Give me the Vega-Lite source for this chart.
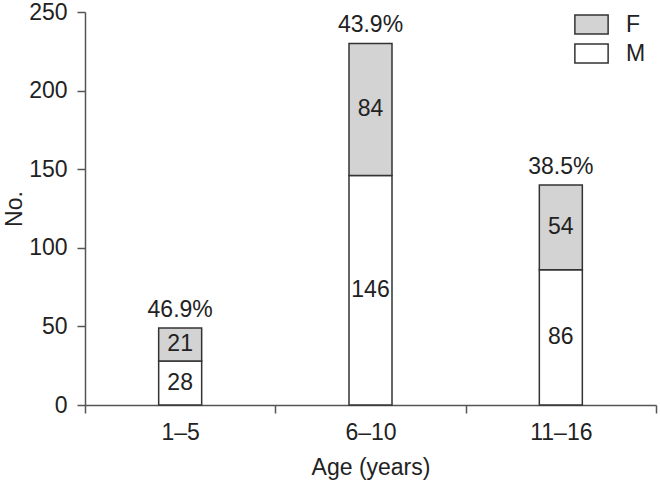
{
  "$schema": "https://vega.github.io/schema/vega-lite/v6.json",
  "width": 571,
  "height": 393,
  "autosize": {"type": "none"},
  "padding": {"left": 85, "top": 12, "right": 4, "bottom": 76},
  "config": {
    "view": {"stroke": null},
    "font": "Liberation Sans",
    "axis": {
      "domainColor": "#555555",
      "domainWidth": 1.5,
      "tickColor": "#555555",
      "tickWidth": 1.5,
      "tickSize": 8,
      "labelFontSize": 23,
      "labelColor": "#222222",
      "titleFontSize": 23,
      "titleFontWeight": "normal",
      "titleColor": "#222222",
      "grid": false
    }
  },
  "data": {
    "values": [
      {"age": "1–5", "sex": "M", "count": 28, "pct": 0.469},
      {"age": "1–5", "sex": "F", "count": 21, "pct": 0.469},
      {"age": "6–10", "sex": "M", "count": 146, "pct": 0.439},
      {"age": "6–10", "sex": "F", "count": 84, "pct": 0.439},
      {"age": "11–16", "sex": "M", "count": 86, "pct": 0.385},
      {"age": "11–16", "sex": "F", "count": 54, "pct": 0.385}
    ]
  },
  "encoding": {
    "x": {
      "field": "age",
      "type": "nominal",
      "sort": ["1–5", "6–10", "11–16"],
      "scale": {"paddingInner": 0, "paddingOuter": 0},
      "axis": {
        "title": "Age (years)",
        "labelAngle": 0,
        "tickBand": "extent",
        "labelPadding": 8,
        "titlePadding": 12
      }
    }
  },
  "layer": [
    {
      "mark": {"type": "bar", "size": 43, "stroke": "#333333", "strokeWidth": 1.5},
      "encoding": {
        "y": {
          "field": "count",
          "type": "quantitative",
          "stack": "zero",
          "scale": {"domain": [0, 250], "nice": false},
          "axis": {
            "title": "No.",
            "values": [0, 50, 100, 150, 200, 250],
            "labelPadding": 10,
            "titlePadding": 2
          }
        },
        "color": {
          "field": "sex",
          "type": "nominal",
          "scale": {"domain": ["F", "M"], "range": ["#d3d3d3", "#ffffff"]},
          "legend": {
            "title": null,
            "orient": "none",
            "legendX": 495,
            "legendY": 1,
            "padding": 0,
            "symbolType": "M-1.75,-1H1.75V1H-1.75Z",
            "symbolSize": 361,
            "symbolStrokeColor": "#333333",
            "symbolStrokeWidth": 1.5,
            "symbolOpacity": 1,
            "labelFontSize": 23,
            "labelColor": "#222222",
            "labelOffset": 23,
            "rowPadding": 4
          }
        },
        "order": {"field": "sex", "sort": "descending"}
      }
    },
    {
      "transform": [
        {"stack": "count", "groupby": ["age"], "sort": [{"field": "sex", "order": "descending"}], "as": ["y0", "y1"]},
        {"calculate": "(datum.y0 + datum.y1) / 2", "as": "mid"}
      ],
      "mark": {"type": "text", "fontSize": 23, "color": "#222222", "baseline": "middle"},
      "encoding": {
        "y": {"field": "mid", "type": "quantitative"},
        "text": {"field": "count", "type": "quantitative"}
      }
    },
    {
      "mark": {"type": "text", "fontSize": 23, "color": "#222222", "baseline": "alphabetic", "dy": -11},
      "encoding": {
        "y": {"aggregate": "sum", "field": "count", "type": "quantitative"},
        "text": {"aggregate": "max", "field": "pct", "type": "quantitative", "format": ".1%"}
      }
    }
  ]
}
